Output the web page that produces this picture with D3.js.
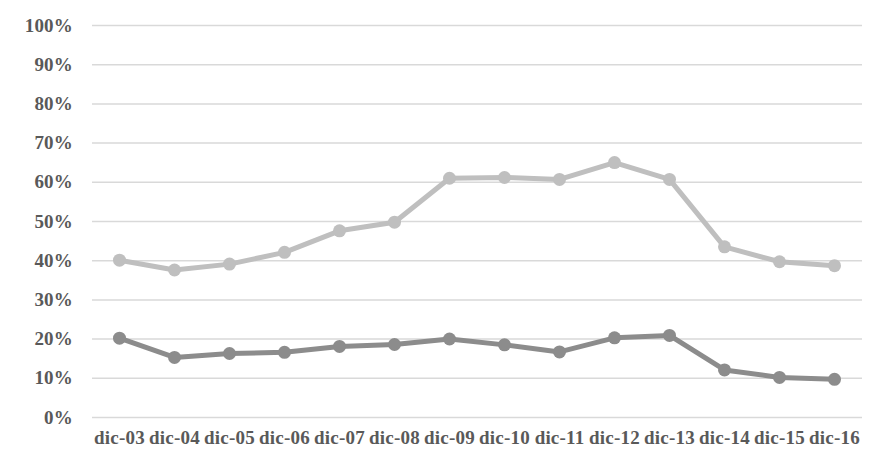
<!DOCTYPE html>
<html>
<head>
<meta charset="utf-8">
<script src="https://cdn.jsdelivr.net/npm/d3@7"></script>
<style>
  body { margin: 0; background: #fff; }
  .axis text { font-family: "Liberation Serif", "Times New Roman", serif; font-weight: bold; font-size: 19px; fill: #595959; letter-spacing: 0.2px; }
  .axis path, .axis line { display: none; }
  .grid line { stroke: #d9d9d9; stroke-width: 1.5; }
  .grid path { display: none; }
</style>
</head>
<body>
<div id="chart"></div>
<script>
// categories and the two series (share, 0-1)
const years = ["dic-03","dic-04","dic-05","dic-06","dic-07","dic-08","dic-09","dic-10","dic-11","dic-12","dic-13","dic-14","dic-15","dic-16"];
const upper = [0.40, 0.375, 0.39, 0.42, 0.475, 0.497, 0.609, 0.611, 0.606, 0.649, 0.606, 0.434, 0.396, 0.386];
const lower = [0.201, 0.152, 0.162, 0.165, 0.18, 0.185, 0.199, 0.184, 0.166, 0.202, 0.208, 0.12, 0.101, 0.096];
const yTicks = [0, 0.1, 0.2, 0.3, 0.4, 0.5, 0.6, 0.7, 0.8, 0.9, 1];

const W = 888, H = 462;
const margin = {top: 25, right: 26, bottom: 45, left: 92};
const width = W - margin.left - margin.right,
      height = H - margin.top - margin.bottom;

const svg = d3.select("#chart").append("svg")
  .attr("width", W).attr("height", H)
  .append("g")
  .attr("transform", "translate(" + margin.left + "," + margin.top + ")");

const x = d3.scaleBand().domain(years).range([0, width]);
const y = d3.scaleLinear().domain([0, 1]).range([height, 0]);

// gridlines
svg.append("g").attr("class", "grid")
  .call(d3.axisLeft(y).tickValues(yTicks).tickSize(-width).tickFormat(""));

svg.append("g").attr("class", "axis")
  .call(d3.axisLeft(y).tickValues(yTicks).tickSize(0).tickPadding(19).tickFormat(d3.format(".0%")));

svg.append("g").attr("class", "axis")
  .attr("transform", "translate(0," + height + ")")
  .call(d3.axisBottom(x).tickSize(0).tickPadding(14));

const line = d3.line()
  .x((d, i) => x(years[i]) + x.bandwidth() / 2)
  .y(d => y(d));

const series = [
  {values: upper, color: "#bfbfbf"},
  {values: lower, color: "#8c8c8c"}
];

series.forEach(function(s) {
  svg.append("path")
    .attr("d", line(s.values))
    .attr("fill", "none")
    .attr("stroke", s.color)
    .attr("stroke-width", 5)
    .attr("stroke-linejoin", "round");

  svg.selectAll(null)
    .data(s.values)
    .enter().append("circle")
    .attr("cx", (d, i) => x(years[i]) + x.bandwidth() / 2)
    .attr("cy", d => y(d))
    .attr("r", 6.5)
    .attr("fill", s.color);
});
</script>
</body>
</html>
